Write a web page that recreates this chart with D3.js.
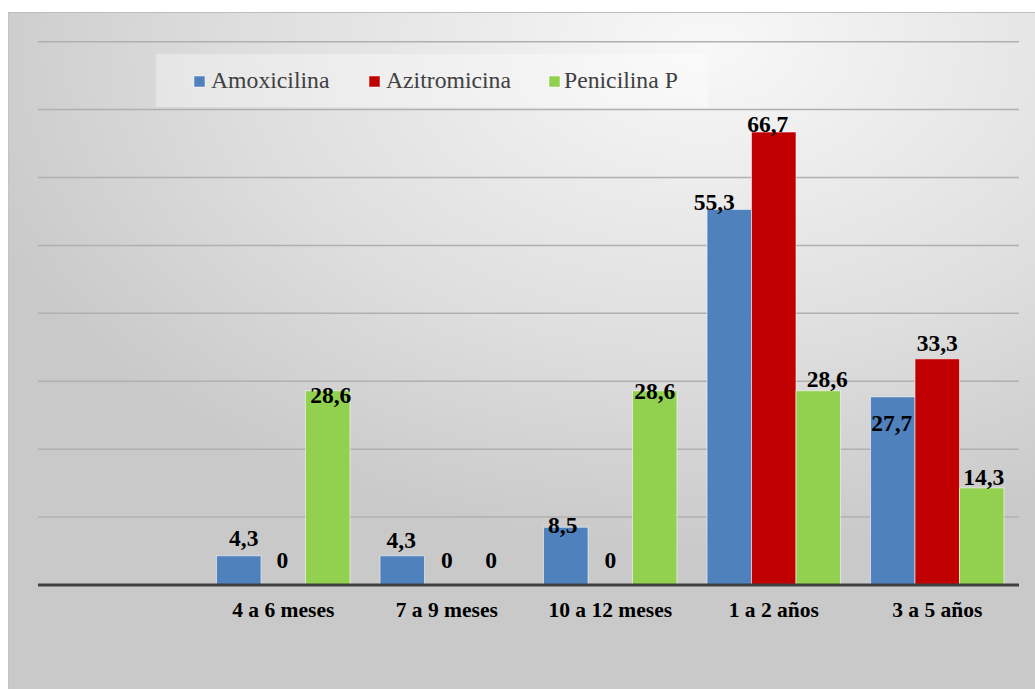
<!DOCTYPE html>
<html>
<head>
<meta charset="utf-8">
<script src="https://cdn.jsdelivr.net/npm/d3@7"></script>
<style>
  html, body { margin: 0; padding: 0; background: #ffffff; }
  svg { display: block; }
  .serif { font-family: "Liberation Serif", "Times New Roman", Tinos, "DejaVu Serif", serif; }
</style>
</head>
<body>
<svg id="chart" width="1035" height="689"></svg>
<script>
// Age groups (the first slot is left empty on the axis)
const categories = ["", "4 a 6 meses", "7 a 9 meses", "10 a 12 meses", "1 a 2 años", "3 a 5 años"];
const seriesNames = ["Amoxicilina", "Azitromicina", "Penicilina P"];
const seriesColors = ["#4F81BD", "#C00000", "#92D050"];

// Percentages per age group (null = no bar in the empty slot)
const amoxicilina  = [null, 4.3, 4.3, 8.5, 55.3, 27.7];
const azitromicina = [null, 0, 0, 0, 66.7, 33.3];
const penicilinaP  = [null, 28.6, 0, 28.6, 28.6, 14.3];

const yTicks = [0, 10, 20, 30, 40, 50, 60, 70, 80];

const values = [amoxicilina, azitromicina, penicilinaP];
const svg = d3.select("#chart");

// Background panel with soft radial shading
const defs = svg.append("defs");
const grad = defs.append("radialGradient")
  .attr("id", "bg")
  .attr("cx", 0.68).attr("cy", 0.05).attr("r", 0.75)
  .attr("fx", 0.68).attr("fy", 0.05);
grad.append("stop").attr("offset", 0).attr("stop-color", "#f8f8f8");
grad.append("stop").attr("offset", 0.6).attr("stop-color", "#dedede");
grad.append("stop").attr("offset", 1).attr("stop-color", "#c9c9c9");

svg.append("rect")
  .attr("x", 8).attr("y", 12).attr("width", 1027).attr("height", 677)
  .attr("fill", "url(#bg)");
svg.append("line")
  .attr("x1", 8).attr("x2", 1035).attr("y1", 12.5).attr("y2", 12.5)
  .attr("stroke", "#bdbdbd").attr("stroke-width", 1);
svg.append("line")
  .attr("x1", 8.5).attr("x2", 8.5).attr("y1", 12).attr("y2", 689)
  .attr("stroke", "#c4c4c4").attr("stroke-width", 1);

// Scales
const x = d3.scaleBand().domain(categories).range([38, 1019]).paddingInner(0).paddingOuter(0);
const gap = x.bandwidth() * 0.184;
const xs = d3.scaleBand().domain(d3.range(seriesNames.length))
  .range([gap / 2, x.bandwidth() - gap / 2]).padding(0);
const y = d3.scaleLinear().domain([0, 80]).range([585, 41.7]);

// Horizontal gridlines
svg.append("g")
  .selectAll("line")
  .data(yTicks.filter(t => t > 0))
  .join("line")
  .attr("x1", 38).attr("x2", 1019)
  .attr("y1", d => y(d)).attr("y2", d => y(d))
  .attr("stroke", "#b0b0b0").attr("stroke-width", 1.5);

// Legend
const legend = svg.append("g");
legend.append("rect")
  .attr("x", 156).attr("y", 54).attr("width", 552).attr("height", 53)
  .attr("fill", "#ffffff").attr("fill-opacity", 0.35);
const legendSquareX = [194, 369, 549];
const legendTextX = [211, 386, 564];
seriesNames.forEach((name, i) => {
  legend.append("rect")
    .attr("x", legendSquareX[i]).attr("y", 76).attr("width", 11).attr("height", 11)
    .attr("fill", seriesColors[i]).attr("stroke", "#ffffff").attr("stroke-opacity", 0.5);
  legend.append("text")
    .attr("class", "serif")
    .attr("x", legendTextX[i]).attr("y", 88)
    .style("font-size", "23.7px").attr("fill", "#404040")
    .text(name);
});

// Bars
const barData = [];
categories.forEach((c, ci) => {
  values.forEach((arr, si) => {
    if (arr[ci] !== null) barData.push({ cat: c, ci, si, v: arr[ci] });
  });
});

svg.append("g")
  .selectAll("rect")
  .data(barData.filter(d => d.v > 0))
  .join("rect")
  .attr("x", d => x(d.cat) + xs(d.si))
  .attr("y", d => y(d.v))
  .attr("width", xs.bandwidth())
  .attr("height", d => y(0) - y(d.v))
  .attr("fill", d => seriesColors[d.si])
  .attr("stroke", "#ffffff").attr("stroke-opacity", 0.55).attr("stroke-width", 1);

// Category axis
const xAxis = svg.append("g").attr("transform", `translate(0,${y(0)})`)
  .call(d3.axisBottom(x).tickSize(0).tickPadding(0));
xAxis.select(".domain").remove();
xAxis.attr("font-family", null).attr("font-size", null);
xAxis.selectAll("text")
  .attr("class", "serif")
  .attr("y", 31.7).attr("dy", 0)
  .style("font-size", "21.5px").style("font-weight", "bold").attr("fill", "#000000");
svg.append("line")
  .attr("x1", 38).attr("x2", 1019).attr("y1", y(0)).attr("y2", y(0))
  .attr("stroke", "#404040").attr("stroke-width", 3);

// Value labels, nudged off neighbouring bars where they would collide
const nudge = [
  null,
  [[5, -9.3], [-1, -16.7], [3, 12.3]],
  [[-1, -7.7], [0, -16.7], [0, -16.7]],
  [[-3, 5.6], [0, -16.7], [0, 8.3]],
  [[-15, 1], [-6, -0.5], [9, -3.3]],
  [[-1, 34], [0, -8], [2, -3.3]]
];
svg.append("g")
  .selectAll("text")
  .data(barData)
  .join("text")
  .attr("class", "serif")
  .attr("x", d => x(d.cat) + xs(d.si) + xs.bandwidth() / 2 + nudge[d.ci][d.si][0])
  .attr("y", d => y(d.v) + nudge[d.ci][d.si][1])
  .attr("text-anchor", "middle")
  .style("font-size", "23.5px").style("font-weight", "bold").attr("fill", "#000000")
  .text(d => String(d.v).replace(".", ","));
</script>
</body>
</html>
